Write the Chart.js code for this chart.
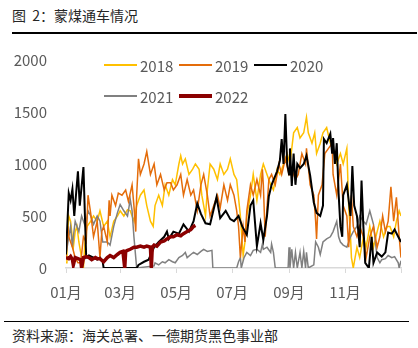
<!DOCTYPE html>
<html>
<head>
<meta charset="utf-8">
<script src="https://cdn.jsdelivr.net/npm/chart.js@4"></script>
<style>
body{margin:0;width:418px;height:348px;background:#fff;position:relative;overflow:hidden;font-family:"Noto Sans CJK SC","Noto Sans",sans-serif}
#title{position:absolute;left:12px;top:5px;font-size:14px;color:#262626;white-space:pre}
#topline{position:absolute;left:12px;top:32px;width:405px;height:2px;background:#000}
#bottomline{position:absolute;left:4px;top:321px;width:405px;height:1px;background:#000}
#source{position:absolute;left:12px;top:325px;font-size:14px;color:#262626}
#box{position:absolute;left:0;top:48px;width:418px;height:256px}
#legend{position:absolute;left:104px;top:55px;width:240px;font-size:15px;color:#595959;display:flex;flex-wrap:wrap;row-gap:11px}
.item{display:flex;align-items:center;width:75px;height:20px}
.item i{display:inline-block;width:33px;margin-right:3px}
</style>
</head>
<body>
<div id="title">图  2：蒙煤通车情况</div>
<div id="topline"></div>
<div id="box"><canvas id="c"></canvas></div>
<div id="legend"></div>
<div id="bottomline"></div>
<div id="source">资料来源：海关总署、一德期货黑色事业部</div>
<script>
// day of year -> value (车)
const years = ["2018","2019","2020","2021","2022"]
const colors = ["#FFC000","#E46C0A","#000000","#808080","#8B0000"]
const widths = [1.5,1.5,2,1.5,3.5]

const monthDays = [0,59,120,181,243,304,365]
const monthLabels = ["01月","03月","05月","07月","09月","11月",""]
const yTicks = [0,500,1000,1500,2000]

const d2018 = [[0,50],[1,200],[3,500],[5,450],[8,200],[10,350],[12,400],[14,250],[16,150],[19,0],[21,300],[23,400],[27,450],[30,500],[34,450],[37,550],[41,400],[45,450],[48,300],[52,450],[56,500],[59,550],[63,500],[67,560],[70,550],[74,450],[77,600],[81,700],[85,750],[88,600],[92,450],[95,400],[97,600],[101,700],[105,600],[108,800],[112,700],[116,850],[119,800],[123,1000],[125,1080],[127,1000],[130,1050],[134,900],[138,950],[141,1000],[145,950],[148,700],[152,500],[154,750],[157,1000],[161,950],[165,850],[168,1000],[172,900],[176,950],[179,1050],[183,900],[186,850],[190,500],[193,120],[195,250],[197,500],[201,700],[204,900],[208,650],[212,900],[215,1000],[219,900],[223,800],[226,750],[230,950],[233,900],[237,1000],[241,1100],[244,1000],[248,1300],[252,1350],[255,1250],[259,1300],[262,1450],[264,1300],[268,1200],[271,1300],[273,1100],[277,1200],[280,1300],[284,1350],[288,1200],[291,1150],[295,1000],[299,1100],[302,1000],[306,1150],[308,600],[310,300],[311,100],[313,0],[317,200],[320,100],[324,300],[327,200],[331,400],[335,200],[339,350],[342,450],[346,300],[350,400],[353,400],[357,300],[360,450],[363,550],[365,500]]

const d2019 = [[0,100],[2,400],[3,300],[5,250],[7,200],[10,100],[13,50],[16,50],[19,300],[22,250],[24,700],[27,520],[30,300],[34,450],[37,100],[39,350],[41,400],[45,250],[47,650],[48,500],[50,700],[54,600],[57,720],[61,700],[65,750],[68,640],[72,800],[74,600],[76,350],[77,700],[79,1050],[81,900],[85,1000],[88,1120],[92,900],[96,1000],[99,800],[103,900],[107,750],[110,820],[114,820],[117,750],[121,800],[125,900],[128,700],[132,850],[136,700],[139,750],[143,550],[147,800],[150,900],[154,700],[157,500],[161,600],[165,700],[168,580],[172,800],[176,650],[179,800],[183,700],[186,550],[188,400],[190,100],[193,400],[195,250],[197,550],[201,800],[204,700],[208,850],[212,700],[214,950],[215,800],[217,300],[221,850],[224,900],[228,800],[232,1000],[235,900],[239,1050],[243,900],[246,950],[250,850],[253,900],[257,1100],[261,1000],[262,1150],[266,800],[270,700],[272,450],[273,280],[275,700],[279,800],[282,1100],[286,1150],[290,1200],[291,900],[295,700],[299,1000],[302,600],[306,500],[308,200],[311,700],[313,400],[317,300],[320,400],[324,300],[327,100],[331,300],[335,400],[339,200],[342,300],[345,500],[348,350],[351,450],[354,780],[357,450],[360,680],[363,300],[365,100]]

const d2020 = [[0,130],[3,720],[5,650],[7,760],[9,500],[13,930],[15,600],[19,970],[22,100],[25,120],[30,100],[34,80],[37,100],[40,60],[41,0],[77,0],[79,30],[85,60],[90,80],[96,200],[101,250],[107,300],[110,350],[112,280],[117,350],[123,330],[128,420],[134,350],[139,450],[143,620],[147,520],[152,430],[157,420],[164,680],[168,480],[174,550],[179,470],[183,450],[188,500],[192,400],[197,320],[201,600],[204,650],[208,210],[212,430],[215,270],[219,500],[221,690],[224,800],[230,930],[233,1030],[235,1240],[237,1000],[239,1480],[241,1000],[243,900],[244,1150],[246,790],[248,1100],[250,800],[252,1000],[255,960],[259,1000],[262,1080],[266,890],[270,630],[273,530],[277,500],[280,600],[281,1240],[284,1200],[288,1290],[290,1100],[291,1250],[293,1000],[295,1200],[297,720],[299,400],[301,300],[302,700],[306,800],[310,500],[312,980],[314,600],[317,500],[320,200],[322,840],[324,400],[326,50],[330,0],[333,300],[335,50],[339,150],[344,110],[348,150],[351,340],[355,330],[358,370],[362,300],[365,250]]

const d2021 = [[0,130],[3,300],[5,400],[7,200],[8,300],[10,450],[14,350],[17,500],[21,400],[24,550],[27,500],[30,420],[34,500],[37,450],[40,250],[45,250],[48,220],[52,400],[56,530],[59,610],[63,550],[67,500],[70,660],[72,550],[74,300],[76,100],[77,0],[96,20],[97,50],[101,30],[105,60],[108,50],[112,80],[116,60],[119,50],[123,100],[127,120],[130,150],[132,100],[136,130],[139,150],[143,130],[147,160],[150,180],[154,160],[159,170],[160,0],[186,0],[188,60],[190,100],[191,0],[194,100],[197,150],[201,120],[204,170],[208,180],[212,150],[214,230],[215,180],[219,200],[223,150],[224,230],[226,150],[228,0],[242,0],[243,200],[244,0],[246,180],[248,0],[250,150],[252,0],[255,150],[257,0],[259,160],[261,0],[262,150],[264,0],[270,30],[272,250],[275,200],[277,130],[280,250],[284,280],[288,300],[291,350],[295,450],[297,300],[299,250],[302,220],[306,200],[310,300],[313,350],[317,400],[320,500],[324,450],[327,420],[331,550],[335,420],[339,100],[342,50],[344,80],[348,90],[351,120],[355,100],[358,110],[362,50],[363,0],[365,70]]

const d2022 = [[0,100],[3,90],[5,110],[7,80],[8,30],[10,100],[13,90],[16,80],[17,0],[19,100],[22,110],[25,100],[28,80],[32,100],[34,90],[37,90],[41,60],[45,100],[48,120],[52,100],[56,130],[59,150],[62,160],[64,0],[65,160],[67,170],[70,180],[74,200],[77,200],[81,210],[85,200],[88,210],[92,200],[93,0],[94,200],[96,220],[99,210],[103,250],[107,260],[110,280],[114,300],[117,300],[121,320],[125,310],[128,330],[132,350],[136,370],[139,400],[141,410]]

const series = [d2018,d2019,d2020,d2021,d2022]
const drawOrder = [5,3,2,4,1]

const datasets = series.map((s,i)=>({
label:years[i],
data:s.map(p=>({x:p[0],y:p[1]})),
borderColor:colors[i],
borderWidth:widths[i],
pointRadius:0,
tension:0,
order:drawOrder[i]
}))

const font = {family:'"Noto Sans CJK SC","Noto Sans",sans-serif',size:15}

new Chart(document.getElementById("c"),{
type:"line",
data:{datasets:datasets},
options:{
responsive:true,
maintainAspectRatio:false,
animation:false,
layout:{padding:{top:12,right:17,left:0,bottom:0}},
plugins:{legend:{display:false},tooltip:{enabled:false}},
scales:{
x:{
type:"linear",
min:0,max:365,
afterBuildTicks:a=>{a.ticks=monthDays.map(v=>({value:v}))},
afterFit:a=>{a.height=36;a.paddingLeft=0;a.paddingRight=0},
grid:{drawOnChartArea:false,drawTicks:true,tickLength:5,color:"#d9d9d9"},
border:{display:true,color:"#d9d9d9",width:1.5},
ticks:{color:"#595959",font:font,padding:10,maxRotation:0,autoSkip:false,
callback:v=>monthLabels[monthDays.indexOf(v)]}
},
y:{
min:0,max:2000,
afterBuildTicks:a=>{a.ticks=yTicks.map(v=>({value:v}))},
afterFit:a=>{a.width=66;a.paddingTop=0;a.paddingBottom=0},
grid:{display:false},
border:{display:false},
ticks:{color:"#595959",font:font,padding:11,callback:v=>String(v)}
}
}
}
})

let lg=""
years.forEach((y,i)=>{
lg+=`<span class="item"><i style="height:${i==4?4:2}px;background:${colors[i]}"></i>${y}</span>`
})
document.getElementById("legend").innerHTML=lg
</script>
</body>
</html>
